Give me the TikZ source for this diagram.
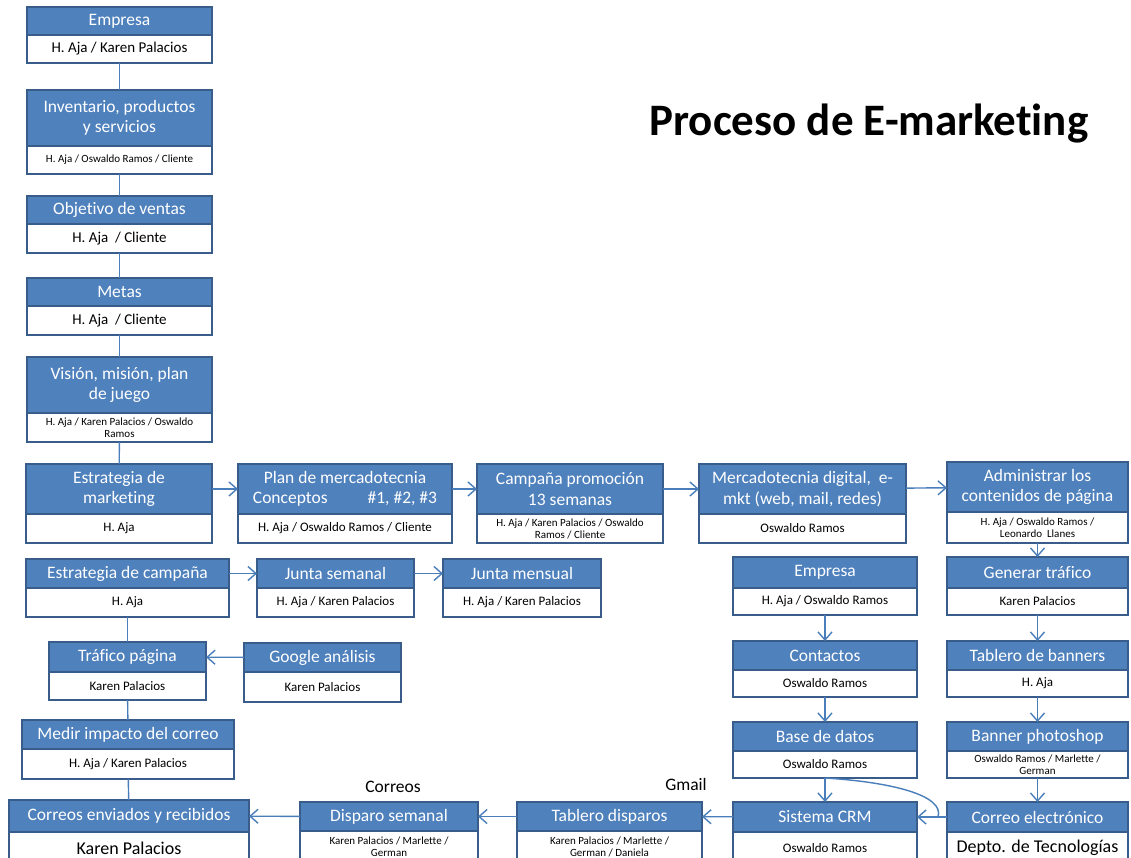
\documentclass[tikz,border=0pt]{standalone}
\usepackage{fontspec}
\setmainfont{Carlito}[Ligatures={NoCommon}]
\usepackage{tikz}
\usetikzlibrary{arrows.meta,positioning}
\definecolor{azul}{HTML}{4F81BD}
\definecolor{borde}{HTML}{385D8A}
\definecolor{linea}{HTML}{4A7EBB}
\tikzstyle{etapa}=[draw=borde,fill=azul,text=white,line width=2.2pt,outer sep=0pt,inner sep=1pt,align=center,font=\fontsize{17.5}{20.5}\selectfont]
\tikzstyle{quien}=[draw=borde,fill=white,text=black,line width=2.2pt,outer sep=0pt,inner sep=0pt,align=center,font=\fontsize{13}{14}\selectfont]
\tikzstyle{chico}=[font=\fontsize{11}{12}\selectfont]
\tikzstyle{medio}=[font=\fontsize{15}{16}\selectfont]
\tikzstyle{grande}=[font=\fontsize{18}{20}\selectfont]
\tikzstyle{conector}=[draw=linea,line width=1.4pt,-]
\tikzstyle{flecha}=[conector,-{Straight Barb[length=8pt,width=14pt]}]
\tikzstyle{nota}=[font=\fontsize{17.5}{20}\selectfont]
\tikzstyle{titulo}=[font=\bfseries\fontsize{45}{50}\selectfont]

\begin{document}
\begin{tikzpicture}[x=1pt,y=-1pt]
\useasboundingbox (0,0) rectangle (1131,858);

% Titulo
\node[titulo] (titulo) at (869,124) {Proceso de E-marketing};

% Columna de la izquierda
\node[etapa,minimum width=185,minimum height=28] (emp) at (119.5,21) {Empresa};
\node[quien,medio,minimum width=185,minimum height=28,below=0pt of emp] (emp-q) {H. Aja / Karen Palacios};
\node[etapa,minimum width=185,minimum height=56] (inv) at (119.5,118) {Inventario, productos\\y servicios};
\node[quien,chico,minimum width=185,minimum height=28,below=0pt of inv] (inv-q) {H. Aja / Oswaldo Ramos / Cliente};
\node[etapa,minimum width=185,minimum height=28] (obj) at (119.5,210) {Objetivo de ventas};
\node[quien,medio,minimum width=185,minimum height=29,below=0pt of obj] (obj-q) {H. Aja~ / Cliente};
\node[etapa,minimum width=185,minimum height=28] (met) at (119.5,292) {Metas};
\node[quien,medio,minimum width=185,minimum height=29,below=0pt of met] (met-q) {H. Aja~ / Cliente};
\node[etapa,minimum width=185,minimum height=56] (vis) at (119.5,385) {Visión, misión, plan\\de juego};
\node[quien,chico,minimum width=185,minimum height=29,below=0pt of vis] (vis-q) {H. Aja / Karen Palacios / Oswaldo\\Ramos};

% Fila de estrategia
\node[etapa,minimum width=186,minimum height=50] (est) at (119,489) {Estrategia de\\marketing};
\node[quien,minimum width=186,minimum height=29,below=0pt of est] (est-q) {H. Aja};
\node[etapa,minimum width=214,minimum height=50] (plan) at (345,489) {Plan de mercadotecnia\\Conceptos\hspace{40pt}\#1, \#2, \#3};
\node[quien,minimum width=214,minimum height=29,below=0pt of plan] (plan-q) {H. Aja / Oswaldo Ramos / Cliente};
\node[etapa,minimum width=186,minimum height=50] (camp) at (570,489) {Campaña promoción\\13 semanas};
\node[quien,chico,minimum width=186,minimum height=29,below=0pt of camp] (camp-q) {H. Aja / Karen Palacios / Oswaldo\\Ramos / Cliente};
\node[etapa,minimum width=207,minimum height=50] (mkt) at (802.5,489) {Mercadotecnia digital,~ e-\\mkt (web, mail, redes)};
\node[quien,minimum width=207,minimum height=29,below=0pt of mkt] (mkt-q) {Oswaldo Ramos};
\node[etapa,minimum width=181,minimum height=50] (adm) at (1037.5,487) {Administrar los\\contenidos de página};
\node[quien,chico,minimum width=181,minimum height=31,below=0pt of adm] (adm-q) {H. Aja / Oswaldo Ramos /\\Leonardo~ Llanes};

% Campaña y medicion
\node[etapa,minimum width=203,minimum height=29] (estc) at (127.5,573.5) {Estrategia de campaña};
\node[quien,minimum width=203,minimum height=29,below=0pt of estc] (estc-q) {H. Aja};
\node[etapa,minimum width=157,minimum height=29] (jsem) at (335.5,573.5) {Junta semanal};
\node[quien,minimum width=157,minimum height=29,below=0pt of jsem] (jsem-q) {H. Aja / Karen Palacios};
\node[etapa,minimum width=158,minimum height=29] (jmen) at (522,573.5) {Junta mensual};
\node[quien,minimum width=158,minimum height=29,below=0pt of jmen] (jmen-q) {H. Aja / Karen Palacios};
\node[etapa,minimum width=157,minimum height=30] (traf) at (127.5,657) {Tráfico página};
\node[quien,minimum width=157,minimum height=28,below=0pt of traf] (traf-q) {Karen Palacios};
\node[etapa,minimum width=157,minimum height=29] (goog) at (322.5,657.5) {Google análisis};
\node[quien,minimum width=157,minimum height=30,below=0pt of goog] (goog-q) {Karen Palacios};
\node[etapa,minimum width=212,minimum height=29] (med) at (128,734.5) {Medir impacto del correo};
\node[quien,minimum width=212,minimum height=30,below=0pt of med] (med-q) {H. Aja / Karen Palacios};

% Digital
\node[etapa,minimum width=184,minimum height=31] (emp2) at (825,572.5) {Empresa};
\node[quien,minimum width=184,minimum height=27,below=0pt of emp2] (emp2-q) {H. Aja / Oswaldo Ramos};
\node[etapa,minimum width=184,minimum height=29] (cont) at (825,655.5) {Contactos};
\node[quien,minimum width=184,minimum height=27,below=0pt of cont] (cont-q) {Oswaldo Ramos};
\node[etapa,minimum width=184,minimum height=29] (base) at (825,736.5) {Base de datos};
\node[quien,minimum width=184,minimum height=27,below=0pt of base] (base-q) {Oswaldo Ramos};
\node[etapa,minimum width=181,minimum height=31] (gen) at (1037.5,572.5) {Generar tráfico};
\node[quien,minimum width=181,minimum height=27,below=0pt of gen] (gen-q) {Karen Palacios};
\node[etapa,minimum width=181,minimum height=29] (tab) at (1037.5,655.5) {Tablero de banners};
\node[quien,minimum width=181,minimum height=27,below=0pt of tab] (tab-q) {H. Aja};
\node[etapa,minimum width=181,minimum height=29] (ban) at (1037.5,736.5) {Banner photoshop};
\node[quien,chico,minimum width=181,minimum height=27,below=0pt of ban] (ban-q) {Oswaldo Ramos / Marlette /\\German};

% Fila de correos
\node[etapa,minimum width=240,minimum height=32] (corr) at (129,816) {Correos enviados y recibidos};
\node[quien,grande,minimum width=240,minimum height=32,below=0pt of corr] (corr-q) {Karen Palacios};
\node[etapa,minimum width=178,minimum height=29] (disp) at (389,816.5) {Disparo semanal};
\node[quien,chico,minimum width=178,minimum height=32,below=0pt of disp] (disp-q) {Karen Palacios / Marlette /\\German};
\node[etapa,minimum width=185,minimum height=29] (tabd) at (609.5,816.5) {Tablero disparos};
\node[quien,chico,minimum width=185,minimum height=32,below=0pt of tabd] (tabd-q) {Karen Palacios / Marlette /\\German / Daniela};
\node[etapa,minimum width=184,minimum height=30] (crm) at (825,817) {Sistema CRM};
\node[quien,minimum width=184,minimum height=32,below=0pt of crm] (crm-q) {Oswaldo Ramos};
\node[etapa,minimum width=181,minimum height=30] (celec) at (1037.5,817) {Correo electrónico};
\node[quien,grande,minimum width=181,minimum height=32,below=0pt of celec] (celec-q) {Depto. de Tecnologías};

\node[nota] (correos) at (393,787) {Correos};
\node[nota] (gmail) at (686,784) {Gmail};

% Lineas sin flecha
\foreach \source / \dest in {emp-q/inv, inv-q/obj, obj-q/met, met-q/vis, vis-q/est, estc-q/traf, traf-q/med, med-q/corr}
\path[conector] (\source) -- (\dest);

% Flechas
\foreach \source / \dest in {est/plan, plan/camp, camp/mkt, mkt/adm, adm-q/gen, gen-q/tab, tab-q/ban, ban-q/celec, estc/jsem, jsem/jmen, goog/traf, emp2-q/cont, cont-q/base, base-q/crm, celec/crm, crm/tabd, tabd/disp, disp/corr}
\path[flecha] (\source) -- (\dest);

% Curva de la base de datos
\coordinate (union) at (938,817);
\path[conector] (base-q.south) .. controls (890,782) and (945,795) .. (union);

\end{tikzpicture}
\end{document}
